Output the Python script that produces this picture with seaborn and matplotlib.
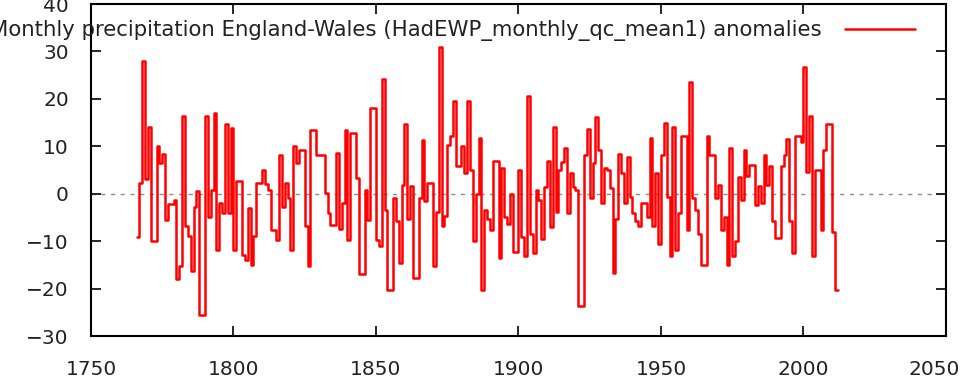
import numpy as np
import pandas as pd
import matplotlib
matplotlib.use("Agg")
import matplotlib.pyplot as plt
import matplotlib.transforms as mtransforms
import seaborn as sns

# yearly anomalies (mm), one value per year from 1766
first_year = 1766
anom_1766_1815 = [-9.2, 2.3, 28, 3, 14, -10, -10, 10, 6.5, 8.4,
                  -5.5, -2.1, -2.1, -1.3, -18, -15.3, 16.3, -6.8, -8.9, -16.3,
                  -2.7, 0.5, -25.5, -25.5, 16.3, -5, 0.8, 17, -11.8, -2,
                  -4.1, 14.8, -4, 13.9, -11.8, 2.6, 2.6, -13, -14, -3,
                  -15, -9, 2.3, 2.3, 5, 2, 0.8, -7.7, -7.7, -9.8]
anom_1816_1865 = [8.1, -2.7, 2.3, -0.9, -11.8, 10.1, 6.5, 9.3, 9.3, -6.8,
                  -15.3, 13.5, 13.5, 8.1, 8.1, 8.1, 0.1, -4.1, -6.5, -6.5,
                  8.6, -7.5, -1.9, 13.5, -9.8, 12.7, 12.7, 3.3, -17, -17,
                  0.8, -5.5, 18, 18, -9.8, -11.1, 24.1, -3.4, -20.2, -20.2,
                  -0.9, -5.8, -14.6, 1.9, 14.6, -5.4, 1.6, -17.8, -17.8, -0.9]
anom_1866_1915 = [11.4, -1.6, 2.2, 2.2, -15.3, -3.8, 31, -6.8, -4.8, 10.3,
                  12.1, 19.5, 5.8, 5.8, 10, 4.4, 19.5, 5.1, -10, 0,
                  11.8, -20.2, -3.4, -5.4, -7.6, 6.8, 6.8, -13.6, 5.4, -5,
                  -6.3, 0, -12.3, -12.3, 5, -9.1, -13.2, 20.5, -8.4, -12.6,
                  0.8, -1.3, -9.5, 1.5, 6.8, -7, 14.1, -3.8, 4.9, 6.6]
anom_1916_1965 = [9.7, -4.1, 4.4, 1.5, 0.8, -23.7, -23.7, 8.1, 13.7, -1,
                  6.5, 16.2, 9.2, -2, 5.4, 4.9, 1.3, -16.8, -5.4, 8.4,
                  4.4, -2, 7.7, -0.6, -4.1, -5.8, -6.8, -2, -2, -5,
                  11.8, -6.8, 4.4, -10.7, 8.1, 14.9, -0.6, -13.2, 14.1, -11.8,
                  -4.1, 12.1, 12.1, -7.6, 23.6, -1, -3.4, -8.4, -15, -15]
anom_1966_2012 = [12.1, 8.1, 8.1, -0.9, 1.9, -7.6, -5, -15, 9.7, -13.2,
                  -10, 3.6, -1.3, 9.3, 3.8, 6.1, 6.1, -2.4, 1.6, -2,
                  8.1, 1.9, 5.8, -5.8, -9.3, -9.3, 5.8, 8.1, 11.5, -5.8,
                  -12.5, 12.2, 12.2, 11, 26.8, 4.6, 16.3, -13.2, 5.1, 5.1,
                  -7.6, 9.3, 14.6, 14.6, -8.1, -20.2, -20.2]

values = anom_1766_1815 + anom_1816_1865 + anom_1866_1915 + anom_1916_1965 + anom_1966_2012
years = list(range(first_year, first_year + len(values)))

x_ticks = [1750, 1800, 1850, 1900, 1950, 2000, 2050]
y_ticks = [-30, -20, -10, 0, 10, 20, 30, 40]
legend_label = "Monthly precipitation England-Wales (HadEWP_monthly_qc_mean1) anomalies"

sns.set_style("ticks")
plt.rcParams["font.family"] = ["DejaVu Sans"]

W, H = 968, 379
fig = plt.figure(figsize=(W / 100, H / 100), dpi=100)
ax = fig.add_axes([91 / W, 1 - 336 / H, (946 - 91) / W, (336 - 4) / H])

df = pd.DataFrame({"year": years, "anom": values})
sns.lineplot(data=df, x="year", y="anom", ax=ax, color="#ff0000", lw=1.8,
             drawstyle="steps-post", label=legend_label)

# zero line
ax.axhline(0, color="#8c8c8c", lw=1, ls=(0, (3, 4)), zorder=0)

ax.set_xlim(1750, 2050)
ax.set_ylim(-30, 40)
ax.set_xticks(x_ticks)
ax.set_yticks(y_ticks)
ax.set_xlabel("")
ax.set_ylabel("")
ax.tick_params(direction="in", length=7, width=1.4, top=True, right=True,
               labelsize=14.5, labelcolor="#222222")
ax.tick_params(axis="y", pad=16)
ax.tick_params(axis="x", pad=17)
for s in ax.spines.values():
    s.set_linewidth(1.5)
    s.set_color("black")

# last x label is pulled inside the figure, as in the original
fig.canvas.draw()
last_lab = ax.get_xticklabels()[-1]
last_lab.set_transform(last_lab.get_transform() +
                       mtransforms.ScaledTranslation(-12 / 100, 0, fig.dpi_scale_trans))

ax.legend(loc="upper right", bbox_to_anchor=(915 / W, 1 - 20 / H),
          bbox_transform=fig.transFigure, frameon=False, markerfirst=False,
          handlelength=3.3, handletextpad=1.1, borderpad=0, borderaxespad=0,
          fontsize=15.3, labelcolor="#222222")

fig.savefig("out.png", dpi=100)
